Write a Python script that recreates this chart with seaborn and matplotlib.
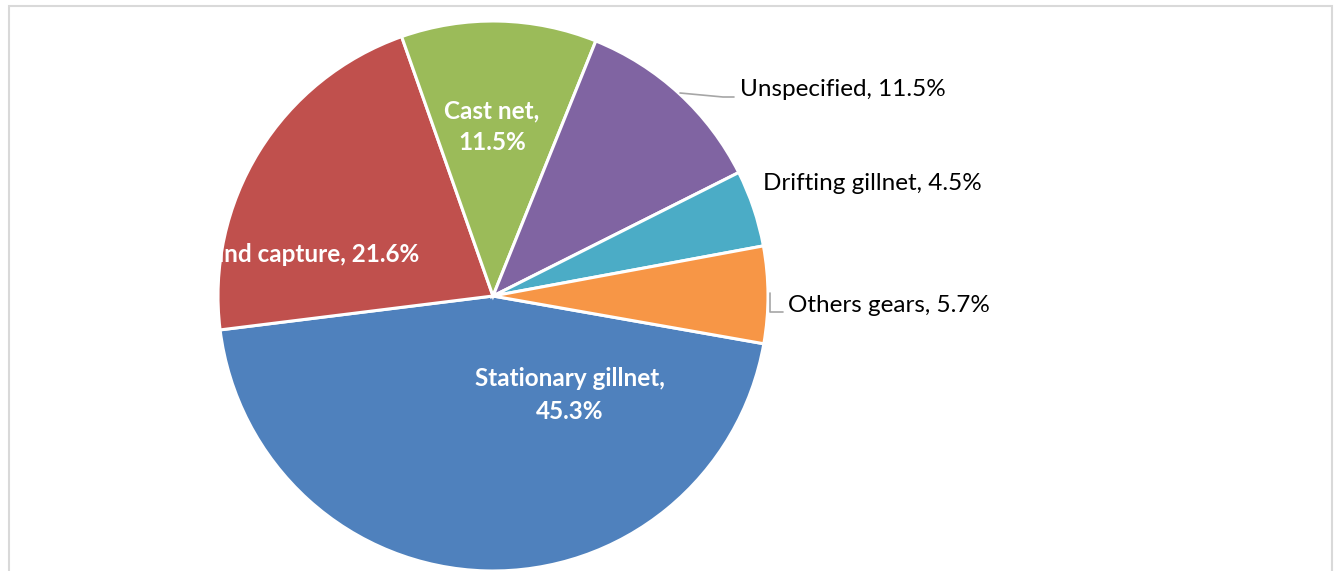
import matplotlib
matplotlib.use("Agg")
import matplotlib.pyplot as plt
from matplotlib.patches import Rectangle
import seaborn as sns

# gear types, shares of catch (%)
gears = ["Stationary gillnet", "Hand capture", "Cast net", "Unspecified",
         "Drifting gillnet", "Others gears"]
shares = [45.3, 21.6, 11.5, 11.5, 4.5, 5.7]
colours = ["#4F81BD", "#C0504D", "#9BBB59", "#8064A2", "#4BACC6", "#F79646"]

sns.set_theme(style="white")
plt.rcParams['font.family'] = ['Lato', 'DejaVu Sans']
pal = sns.color_palette(colours)

fig = plt.figure(figsize=(13.4, 5.71), dpi=100)
W, H = 1340, 571
# chart border (bottom runs off the picture)
fig.patches.append(Rectangle((8.5 / W, -0.1), (1331.5 - 8.5) / W, 1.1 - 6.5 / H,
                             transform=fig.transFigure, fill=False,
                             edgecolor="#d9d9d9", lw=1.5))

cx, cy, r = 493, 296, 275
ax = fig.add_axes([(cx - r) / W, (H - cy - r) / H, 2 * r / W, 2 * r / H])
wedges, _ = ax.pie(shares, colors=pal, startangle=-10, counterclock=False,
                   radius=1, wedgeprops=dict(edgecolor="white", linewidth=2.2))
ax.set_xlim(-1, 1)
ax.set_ylim(-1, 1)
ax.set_aspect("equal")
ax.axis("off")


def px(x, y):
    return (x - cx) / r, (cy - y) / r


fs = 17.5
# labels inside the slices (white, bold)
ax.text(*px(570, 395), f"{gears[0]},\n{shares[0]}%", ha="center", va="center",
        color="white", fontsize=fs, fontweight="bold", linespacing=1.55)
ax.text(*px(419, 255), f"{gears[1]}, {shares[1]}%", ha="right", va="center",
        color="white", fontsize=fs, fontweight="bold")
ax.text(*px(492, 127), f"{gears[2]},\n{shares[2]}%", ha="center", va="center",
        color="white", fontsize=fs, fontweight="bold", linespacing=1.45)

outside = {3: (740, 90), 4: (763, 183), 5: (788, 305)}
for i, (x, y) in outside.items():
    ax.text(*px(x, y), f"{gears[i]}, {shares[i]}%", ha="left", va="center",
            color="black", fontsize=fs, clip_on=False)

# leader lines
l1 = [px(680, 93), px(723, 97), px(734, 97)]
ax.plot([p[0] for p in l1], [p[1] for p in l1], color="#a6a6a6", lw=1.2, clip_on=False)
l2 = [px(770.5, 293), px(770.5, 312), px(783, 312)]
ax.plot([p[0] for p in l2], [p[1] for p in l2], color="#a6a6a6", lw=1.2, clip_on=False)

fig.savefig("out.png", dpi=100)
